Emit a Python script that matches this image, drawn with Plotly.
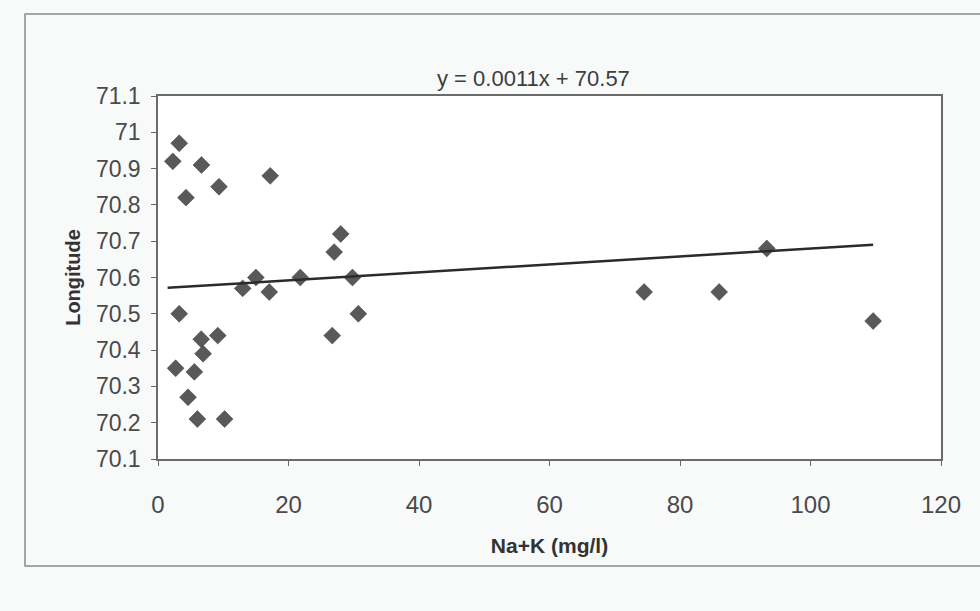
import plotly.graph_objects as go

# Na+K concentration (mg/l) and longitude of each sampling site
na_k = [3.25, 2.27, 6.66, 4.29, 9.35, 17.2, 28.0, 27.0,
        3.25, 2.7, 6.62, 6.91, 9.16, 5.57, 4.6, 6.03, 10.2,
        12.98, 15.0, 17.05, 21.8, 26.7, 29.8, 30.7,
        93.3, 74.5, 86.0, 109.6]
longitude = [70.97, 70.92, 70.91, 70.82, 70.85, 70.88, 70.72, 70.67,
             70.50, 70.35, 70.43, 70.39, 70.44, 70.34, 70.27, 70.21, 70.21,
             70.57, 70.60, 70.56, 70.60, 70.44, 70.60, 70.50,
             70.68, 70.56, 70.56, 70.48]

# Linear trend line coefficients
slope = 0.0011
intercept = 70.57

x_ticks = [0, 20, 40, 60, 80, 100, 120]
y_ticks = [70.1, 70.2, 70.3, 70.4, 70.5, 70.6, 70.7, 70.8, 70.9, 71.0, 71.1]
y_tick_text = ["70.1", "70.2", "70.3", "70.4", "70.5", "70.6",
               "70.7", "70.8", "70.9", "71", "71.1"]

trend_x = [min(na_k) - 0.8, max(na_k)]
trend_y = [slope * v + intercept for v in trend_x]

font_family = "Liberation Sans, Arial, sans-serif"
text_color = "#4a4a4a"

# plot-area geometry in pixels, used to place the outer chart frame
W, H = 980, 611
ml, mr, mt, mb = 158, 39, 96, 152
pw, ph = W - ml - mr, H - mt - mb

def px_x(p):
    return (p - ml) / pw

def px_y(p):
    return (H - mb - p) / ph

fig = go.Figure()
fig.add_trace(go.Scatter(
    x=na_k, y=longitude, mode="markers",
    marker=dict(symbol="diamond", size=13, color="#595959",
                line=dict(width=0.5, color="#3d3d3d")),
    showlegend=False, hoverinfo="x+y",
))
fig.add_trace(go.Scatter(
    x=trend_x, y=trend_y, mode="lines",
    line=dict(color="#2b2b2b", width=2.5),
    showlegend=False, hoverinfo="skip",
))

fig.update_layout(
    width=W, height=H,
    margin=dict(l=ml, r=mr, t=mt, b=mb),
    paper_bgcolor="#f8f9f9",
    plot_bgcolor="#ffffff",
    font=dict(family=font_family, color=text_color, size=24),
    xaxis=dict(
        range=[0, 120], tickvals=x_ticks, ticks="outside", ticklen=5,
        tickcolor="#666", showgrid=False, zeroline=False,
        showline=True, linecolor="#6a6a6a", linewidth=1.5, mirror=True,
        ticklabelstandoff=18,
        tickfont=dict(size=24, color=text_color),
        title=dict(text="<b>Na+K (mg/l)</b>", standoff=22,
                   font=dict(size=21, color="#333")),
    ),
    yaxis=dict(
        range=[70.1, 71.1], tickvals=y_ticks, ticktext=y_tick_text,
        ticks="outside", ticklen=5, tickcolor="#666",
        showgrid=False, zeroline=False,
        showline=True, linecolor="#6a6a6a", linewidth=1.5, mirror=True,
        ticklabelstandoff=6,
        tickfont=dict(size=23, color=text_color),
        title=dict(text="<b>Longitude</b>", standoff=10,
                   font=dict(size=20, color="#333")),
    ),
    annotations=[dict(
        text="y = 0.0011x + 70.57", xref="paper", yref="paper",
        x=0.48, y=1.0, xanchor="center", yanchor="bottom", yshift=3,
        showarrow=False, font=dict(size=22, color="#3d3d3d"),
    )],
    shapes=[dict(
        type="rect", xref="paper", yref="paper", layer="below",
        x0=px_x(25), x1=px_x(990), y0=px_y(566), y1=px_y(14),
        line=dict(color="#8a8a8a", width=1.5),
    )],
)

fig.write_html("out.html")
